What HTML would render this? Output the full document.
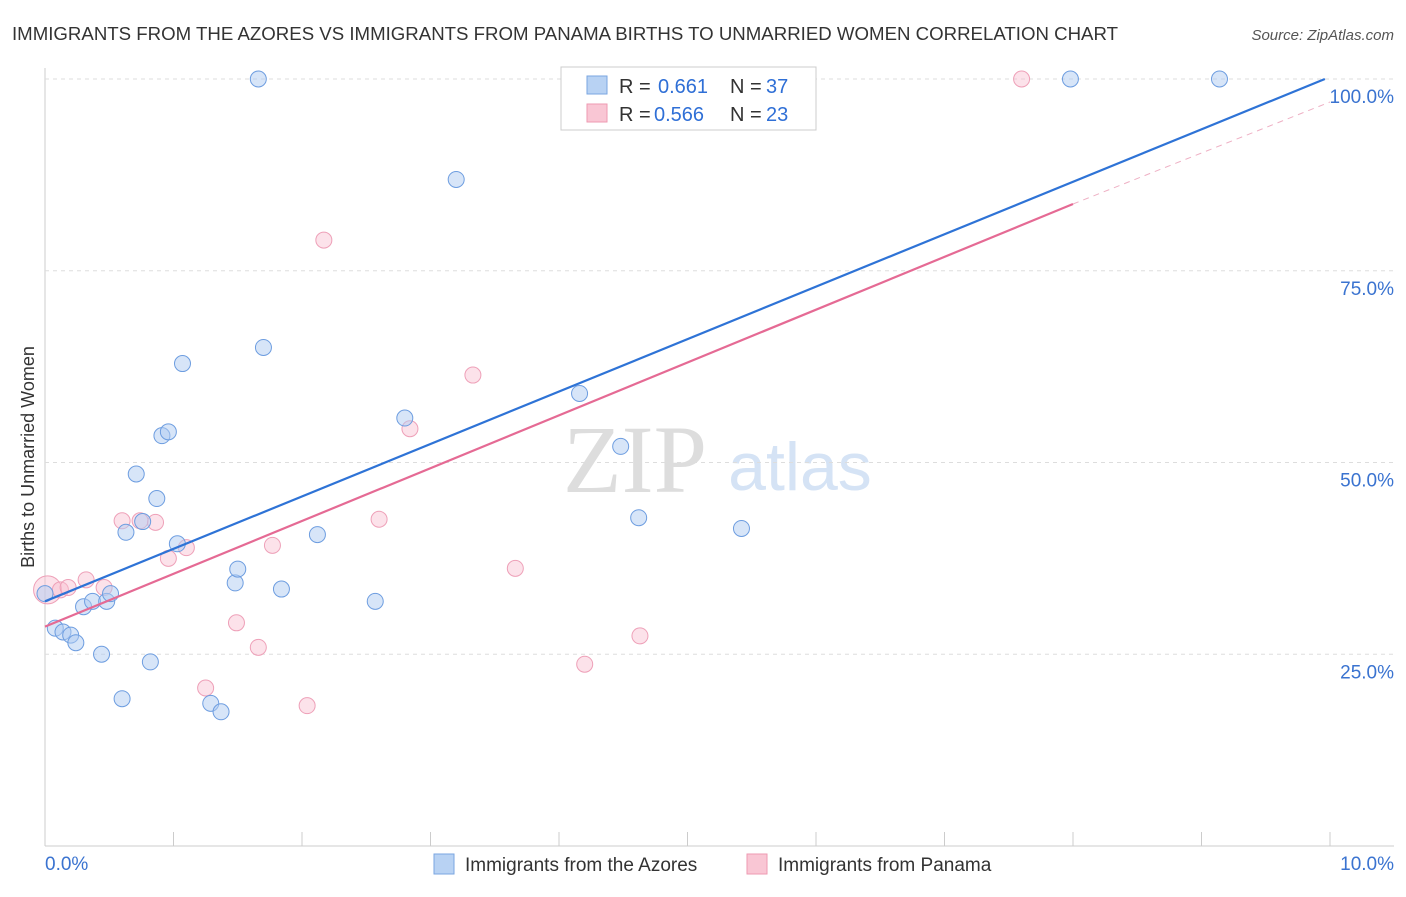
<!DOCTYPE html>
<html><head><meta charset="utf-8">
<style>
body{margin:0;background:#fff;font-family:"Liberation Sans",sans-serif;}
#c{position:relative;width:1406px;height:892px;}
</style></head><body>
<div id="c">
<svg id="s" width="1406" height="892" xmlns="http://www.w3.org/2000/svg">
<text x="12" y="40" font-size="18" fill="#333" textLength="1106" lengthAdjust="spacingAndGlyphs">IMMIGRANTS FROM THE AZORES VS IMMIGRANTS FROM PANAMA BIRTHS TO UNMARRIED WOMEN CORRELATION CHART</text>
<text x="1394" y="40" font-size="15" fill="#555" font-style="italic" text-anchor="end">Source: ZipAtlas.com</text>
<text x="34" y="457" font-size="18" fill="#333" text-anchor="middle" transform="rotate(-90 34 457)">Births to Unmarried Women</text>
<text x="635" y="492" font-size="96" fill="#ddd" font-family="Liberation Serif" text-anchor="middle">ZIP</text>
<text x="800" y="490" font-size="68" fill="#d5e3f5" text-anchor="middle">atlas</text>
<g id="grid"></g><g id="pts"></g><g id="lines"></g>
<g>
<rect x="561" y="67" width="255" height="63" fill="#fff" stroke="#ccc"/>
<rect x="587" y="76" width="20" height="18" fill="#b8d2f3" stroke="#7aa6e0"/>
<rect x="587" y="104" width="20" height="18" fill="#f9c6d4" stroke="#ee9ab2"/>
<text x="619" y="93" font-size="20" fill="#333">R =</text>
<text x="658" y="93" font-size="20" fill="#2f6fd6">0.661</text>
<text x="730" y="93" font-size="20" fill="#333">N =</text>
<text x="766" y="93" font-size="20" fill="#2f6fd6">37</text>
<text x="619" y="121" font-size="20" fill="#333">R =</text>
<text x="654" y="121" font-size="20" fill="#2f6fd6">0.566</text>
<text x="730" y="121" font-size="20" fill="#333">N =</text>
<text x="766" y="121" font-size="20" fill="#2f6fd6">23</text>
</g>
<g>
<rect x="434" y="854" width="20" height="20" fill="#b8d2f3" stroke="#7aa6e0"/>
<text x="465" y="871" font-size="19" fill="#333">Immigrants from the Azores</text>
<rect x="747" y="854" width="20" height="20" fill="#f9c6d4" stroke="#ee9ab2"/>
<text x="778" y="871" font-size="19" fill="#333">Immigrants from Panama</text>
</g>
<text x="45" y="870" font-size="19" fill="#3a73d0">0.0%</text>
<text x="1394" y="870" font-size="19" fill="#3a73d0" text-anchor="end">10.0%</text>
</svg></div>
<script>
const yTicks=[25,50,75,100];
const yTickLabels=["25.0%","50.0%","75.0%","100.0%"];
const azX=[0.0,0.08,0.14,0.2,0.24,0.3,0.37,0.44,0.48,0.51,0.6,0.63,0.71,0.76,0.82,0.87,0.91,0.96,1.03,1.07,1.29,1.37,1.48,1.5,1.66,1.7,1.84,2.12,2.57,2.8,3.2,4.16,4.48,4.62,5.42,7.98,9.14];
const azY=[32.9,28.4,27.9,27.5,26.5,31.2,31.9,25.0,31.9,32.9,19.2,40.9,48.5,42.3,24.0,45.3,53.5,54.0,39.4,62.9,18.6,17.5,34.3,36.1,100,65.0,33.5,40.6,31.9,55.8,86.9,59.0,52.1,42.8,41.4,100,100];
const paX=[0.02,0.12,0.18,0.32,0.46,0.6,0.74,0.86,0.96,1.1,1.25,1.49,1.66,1.77,2.04,2.17,2.6,2.84,3.33,3.66,4.2,4.63,7.6];
const paY=[33.4,33.4,33.7,34.7,33.7,42.4,42.4,42.2,37.5,38.9,20.6,29.1,25.9,39.2,18.3,79.0,42.6,54.4,61.4,36.2,23.7,27.4,100];
const azLine=[[0,31.9],[9.96,100]];
const paLine=[[0,28.6],[8,83.7]];
const paLineExt=[[8,83.7],[10,97.0]];
const X=v=>45+v*128.5, Y=v=>846-v*7.67;
const NS="http://www.w3.org/2000/svg";
function mk(t,a,p){const e=document.createElementNS(NS,t);for(const k in a)e.setAttribute(k,a[k]);p.appendChild(e);return e;}
const g=document.getElementById('grid');
const ax=mk('line',{x1:45,y1:68,x2:45,y2:846,stroke:'#ccc'},g);

const bx=mk('line',{x1:45,y1:846,x2:1394,y2:846,stroke:'#ccc'},g);

for(let i=0;i<=10;i++){const t=mk('line',{x1:X(i),y1:832,x2:X(i),y2:846,stroke:'#ccc'},g);
}
yTicks.forEach((v,i)=>{const l=mk('line',{x1:45,y1:Y(v),x2:1394,y2:Y(v),stroke:'#ddd','stroke-dasharray':'4,4'},g);

const t=mk('text',{x:1394,y:Y(v)+24,'font-size':19,fill:'#3a73d0','text-anchor':'end'},g);t.textContent=yTickLabels[i];
});
const p=document.getElementById('pts');
paX.forEach((v,i)=>{const c=mk('circle',{cx:X(v),cy:Y(paY[i]),r:i==0?14:8,fill:'rgba(249,190,208,0.45)',stroke:'#eea0b8','stroke-width':1},p);
});
azX.forEach((v,i)=>{const c=mk('circle',{cx:X(v),cy:Y(azY[i]),r:8,fill:'rgba(176,204,242,0.5)',stroke:'#6d9de0','stroke-width':1},p);
});
const L=document.getElementById('lines');
const l1=mk('line',{x1:X(azLine[0][0]),y1:Y(azLine[0][1]),x2:X(azLine[1][0]),y2:Y(azLine[1][1]),stroke:'#2e73d6','stroke-width':2.2},L);

const l2=mk('line',{x1:X(paLine[0][0]),y1:Y(paLine[0][1]),x2:X(paLine[1][0]),y2:Y(paLine[1][1]),stroke:'#e56a94','stroke-width':2.2},L);

const l3=mk('line',{x1:X(paLineExt[0][0]),y1:Y(paLineExt[0][1]),x2:X(paLineExt[1][0]),y2:Y(paLineExt[1][1]),stroke:'#eeb0c4','stroke-width':1,'stroke-dasharray':'6,5'},L);

</script>
</body></html>
